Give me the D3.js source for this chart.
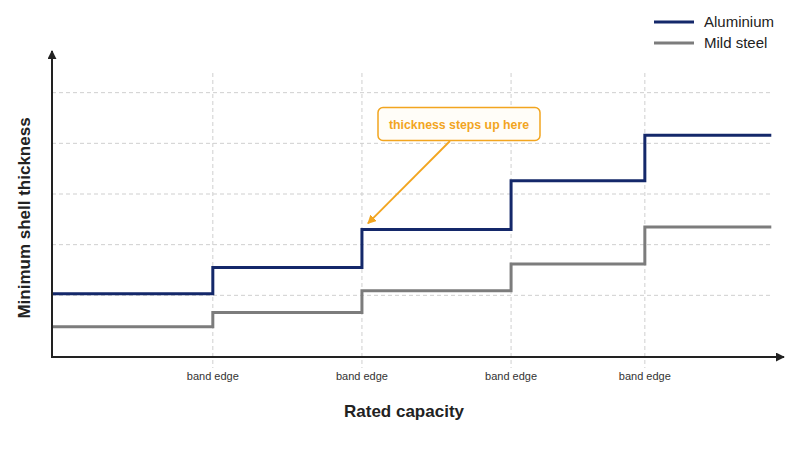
<!DOCTYPE html>
<html><head><meta charset="utf-8">
<script src="https://cdn.jsdelivr.net/npm/d3@7"></script>
<style>body{margin:0;background:#fff}svg{display:block;font-family:"Liberation Sans",Arial,sans-serif}</style>
</head><body><svg id="c" width="800" height="450"></svg>
<script>
const bandEdges = [22.0, 42.4, 62.8, 81.1];
const bandLabels = ["band edge", "band edge", "band edge", "band edge"];
const capacityRange = [0, 98.4];
const aluminium = [1.03, 1.55, 2.30, 3.26, 4.16];
const mildSteel = [0.38, 0.66, 1.09, 1.62, 2.35];
const gridValues = [1, 2, 3, 4, 5];
const seriesNames = ["Aluminium", "Mild steel"];
const seriesColors = ["#14286a", "#7c7c7c"];

const svg = d3.select("#c");
const x = d3.scaleLinear().domain([0, 100]).range([52, 783]);
const y = d3.scaleLinear().domain([0, 6]).range([346, 42]);
const axisY = 357;

// grid
const grid = svg.append("g");
grid.selectAll("line.h").data(gridValues).join("line")
  .attr("x1", x(0)).attr("x2", x(capacityRange[1]))
  .attr("y1", d => y(d)).attr("y2", d => y(d))
  .attr("stroke", "#cfcfcf").attr("stroke-width", 1).attr("stroke-dasharray", "4,3");
grid.selectAll("line.v").data(bandEdges).join("line")
  .attr("x1", d => x(d)).attr("x2", d => x(d))
  .attr("y1", 73).attr("y2", 368)
  .attr("stroke", "#cfcfcf").attr("stroke-width", 1).attr("stroke-dasharray", "4,3");

// tick labels
svg.selectAll("text.tick").data(bandEdges).join("text")
  .attr("x", d => x(d)).attr("y", 380).attr("text-anchor", "middle")
  .attr("font-size", 11).attr("fill", "#333").text((d, i) => bandLabels[i]);

// step lines
function stepData(vals) {
  const xs = [capacityRange[0], ...bandEdges];
  const pts = vals.map((v, i) => [xs[i], v]);
  pts.push([capacityRange[1], vals[vals.length - 1]]);
  return pts;
}
const line = d3.line().x(d => x(d[0])).y(d => y(d[1])).curve(d3.curveStepAfter);
[mildSteel, aluminium].forEach((vals, i) => {
  svg.append("path").datum(stepData(vals)).attr("d", line)
    .attr("fill", "none").attr("stroke", seriesColors[1 - i]).attr("stroke-width", 3)
    .attr("stroke-linejoin", "miter");
});

// axes
const defs = svg.append("defs");
defs.append("marker").attr("id", "ah").attr("viewBox", "0 0 10 10").attr("refX", 9).attr("refY", 5)
  .attr("markerWidth", 9).attr("markerHeight", 9).attr("markerUnits", "userSpaceOnUse").attr("orient", "auto")
  .append("path").attr("d", "M0,0L10,5L0,10Z").attr("fill", "#222");
svg.append("line").attr("x1", x(0)).attr("x2", x(0)).attr("y1", axisY).attr("y2", 51)
  .attr("stroke", "#222").attr("stroke-width", 2).attr("marker-end", "url(#ah)");
svg.append("line").attr("x1", x(0) - 1).attr("x2", 784).attr("y1", axisY).attr("y2", axisY)
  .attr("stroke", "#222").attr("stroke-width", 2).attr("marker-end", "url(#ah)");

// axis titles
svg.append("text").attr("x", 404).attr("y", 417).attr("text-anchor", "middle")
  .attr("font-size", 17).attr("font-weight", "bold").attr("fill", "#222").text("Rated capacity");
svg.append("text").attr("transform", "translate(30,218) rotate(-90)").attr("text-anchor", "middle")
  .attr("font-size", 17).attr("font-weight", "bold").attr("fill", "#222").text("Minimum shell thickness");

// legend
const leg = svg.append("g");
seriesNames.forEach((n, i) => {
  const ly = 22 + i * 21;
  leg.append("line").attr("x1", 654).attr("x2", 694).attr("y1", ly).attr("y2", ly)
    .attr("stroke", seriesColors[i]).attr("stroke-width", 3);
  leg.append("text").attr("x", 704).attr("y", ly + 5).attr("font-size", 15).attr("fill", "#222").text(n);
});

// annotation
const orange = "#f2a51f";
defs.append("marker").attr("id", "oh").attr("viewBox", "0 0 10 10").attr("refX", 9).attr("refY", 5)
  .attr("markerWidth", 9).attr("markerHeight", 9).attr("markerUnits", "userSpaceOnUse").attr("orient", "auto")
  .append("path").attr("d", "M0,0L10,5L0,10Z").attr("fill", orange);
const tx = x(bandEdges[1]) + 6, ty = y(aluminium[2]) - 6;
svg.append("line").attr("x1", 450).attr("y1", 141).attr("x2", tx).attr("y2", ty)
  .attr("stroke", orange).attr("stroke-width", 1.8).attr("marker-end", "url(#oh)");
svg.append("rect").attr("x", 378).attr("y", 107.5).attr("width", 162).attr("height", 33).attr("rx", 5)
  .attr("fill", "#fffdf8").attr("stroke", orange).attr("stroke-width", 1.5);
svg.append("text").attr("x", 459).attr("y", 128.5).attr("text-anchor", "middle")
  .attr("font-size", 12.3).attr("font-weight", "bold").attr("fill", orange).text("thickness steps up here");
</script></body></html>
